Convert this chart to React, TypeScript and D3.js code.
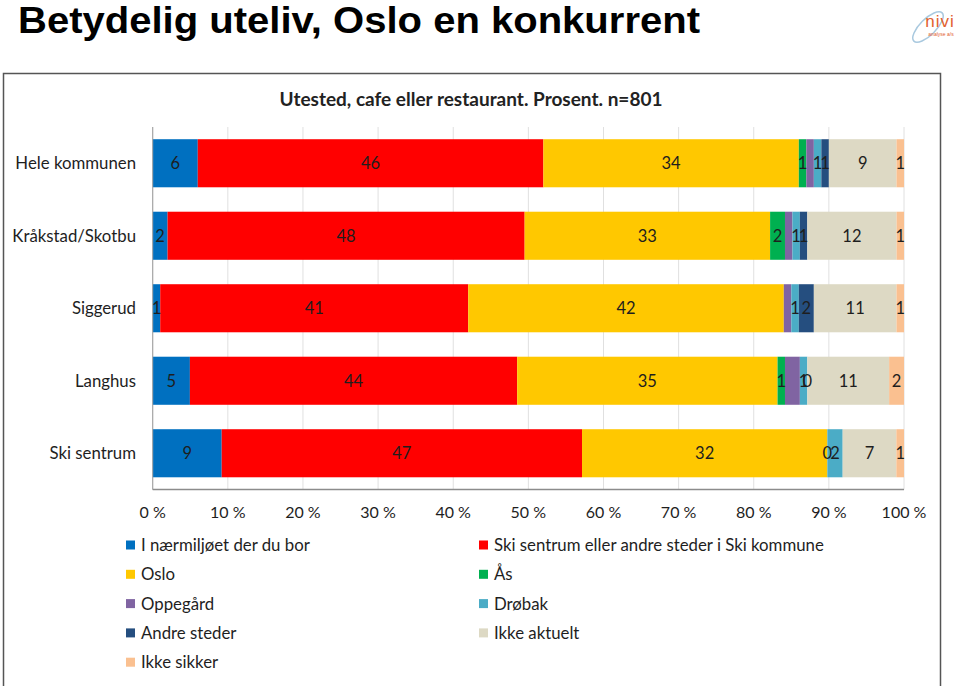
import React from "react";
import * as d3 from "d3";

const categories = ["Hele kommunen", "Kråkstad/Skotbu", "Siggerud", "Langhus", "Ski sentrum"];
const seriesNames = [
  "I nærmiljøet der du bor",
  "Ski sentrum eller andre steder i Ski kommune",
  "Oslo",
  "Ås",
  "Oppegård",
  "Drøbak",
  "Andre steder",
  "Ikke aktuelt",
  "Ikke sikker",
];
const seriesColors = ["#0070C0", "#FF0000", "#FFC800", "#00B050", "#8064A2", "#4BACC6", "#254E7F", "#DDD9C4", "#FAC090"];
const seriesShowLabels = [true, true, true, true, false, true, true, true, true];

const naermiljo = [6, 2, 1, 5, 9];
const skiKommune = [46, 48, 41, 44, 47];
const oslo = [34, 33, 42, 35, 32];
const aas = [1, 2, null, 1, 0];
const oppegard = [1, 1, 1, 2, null];
const drobak = [1, 1, 1, 1, 2];
const andreSteder = [1, 1, 2, 0, null];
const ikkeAktuelt = [9, 12, 11, 11, 7];
const ikkeSikker = [1, 1, 1, 2, 1];

const seriesValues: (number | null)[][] = [naermiljo, skiKommune, oslo, aas, oppegard, drobak, andreSteder, ikkeAktuelt, ikkeSikker];
const xTicks = [0, 0.1, 0.2, 0.3, 0.4, 0.5, 0.6, 0.7, 0.8, 0.9, 1];

const mainTitle = "Betydelig uteliv, Oslo en konkurrent";
const chartTitle = "Utested, cafe eller restaurant. Prosent. n=801";

const FONT = "Lato, 'Open Sans', sans-serif";

export default function App() {
  const W = 960, H = 686;
  const x0 = 152.7, x1 = 904;
  const y0 = 127, y1 = 489.5;

  const x = d3.scaleLinear().domain([0, 1]).range([x0, x1]);
  const y = d3.scaleBand<string>().domain(categories).range([y0, y1]).paddingInner(0.337).paddingOuter(0.1685);

  const rows = categories.map((c, i) => {
    const r: any = { cat: c };
    seriesNames.forEach((s, j) => (r[s] = seriesValues[j][i] ?? 0));
    return r;
  });
  const stacked = d3.stack<any>().keys(seriesNames).offset(d3.stackOffsetExpand)(rows);

  return (
    <svg width={W} height={H} style={{ position: "absolute", left: 0, top: 0, background: "#fff" }}>
      <text x={18} y={33} fontFamily="'Liberation Sans', Arial, sans-serif" fontWeight="bold" fontSize={36} textLength={682} lengthAdjust="spacingAndGlyphs" fill="#000">
        {mainTitle}
      </text>
      {/* logo */}
      <g>
        <ellipse cx={928} cy={27} rx={20} ry={8} fill="none" stroke="#a9c9df" strokeWidth={1.5} transform="rotate(-45 928 27)" />
        <text x={940} y={27} textAnchor="middle" fontFamily="'Liberation Sans', Arial, sans-serif" fontSize={17} fill="#e2602e" letterSpacing={1}>nivi</text>
        <text x={941} y={36} textAnchor="middle" fontFamily="'Liberation Sans', Arial, sans-serif" fontSize={5} fill="#e2602e">analyse a/s</text>
      </g>
      <rect x={3.5} y={73.5} width={937} height={620} fill="#fff" stroke="#555" strokeWidth={1.5} />
      <text x={471} y={106} textAnchor="middle" fontFamily={FONT} fontWeight="bold" fontSize={19} fill="#222">
        {chartTitle}
      </text>
      {/* gridlines */}
      {xTicks.map((t) => (
        <line key={t} x1={x(t)} x2={x(t)} y1={y0} y2={y1} stroke={t === 0 ? "#bfbfbf" : "#e0e0e0"} strokeWidth={1} />
      ))}
      {/* bars */}
      {stacked.map((layer, j) => (
        <g key={layer.key}>
          {layer.map((d, i) => (
            <rect key={i} x={x(d[0])} y={y(categories[i])} width={Math.max(0, x(d[1]) - x(d[0]))} height={y.bandwidth()} fill={seriesColors[j]} />
          ))}
        </g>
      ))}
      {/* labels */}
      {stacked.map((layer, j) =>
        seriesShowLabels[j]
          ? layer.map((d, i) => {
              const v = seriesValues[j][i];
              if (v === null) return null;
              return (
                <text key={`${j}-${i}`} x={(x(d[0]) + x(d[1])) / 2} y={(y(categories[i]) as number) + y.bandwidth() / 2} dy="0.36em" textAnchor="middle" fontFamily={FONT} fontSize={16.5} fill="#1e1e1e">
                  {v}
                </text>
              );
            })
          : null
      )}
      {/* axes */}
      <line x1={x0} x2={x0} y1={y0} y2={y1} stroke="#a6a6a6" />
      <line x1={x0} x2={x1} y1={y1} y2={y1} stroke="#8c8c8c" strokeWidth={1.5} />
      {categories.map((c) => (
        <text key={c} x={136} y={(y(c) as number) + y.bandwidth() / 2} dy="0.36em" textAnchor="end" fontFamily={FONT} fontSize={16.8} fill="#1e1e1e">
          {c}
        </text>
      ))}
      {xTicks.map((t) => (
        <text key={t} x={x(t)} y={512} dy="0.36em" textAnchor="middle" fontFamily={FONT} fontSize={16} fill="#1e1e1e">
          {`${Math.round(t * 100)} %`}
        </text>
      ))}
      {/* legend */}
      {seriesNames.map((s, j) => {
        const col = j % 2, row = Math.floor(j / 2);
        const lx = col === 0 ? 126 : 479;
        const ly = 545 + row * 29.3;
        return (
          <g key={s}>
            <rect x={lx} y={ly - 4.5} width={9} height={9} fill={seriesColors[j]} />
            <text x={lx + 15} y={ly} dy="0.36em" fontFamily={FONT} fontSize={16.8} fill="#1e1e1e">
              {s}
            </text>
          </g>
        );
      })}
    </svg>
  );
}
